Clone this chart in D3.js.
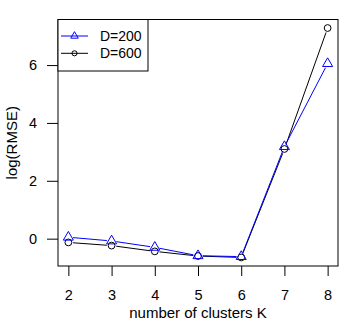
<!doctype html>
<html lang="en">
<head>
    <title></title>
    <script src="https://d3js.org/d3.v7.min.js"></script>
    <style type="text/css">
    body { margin:0; background:white; }
    text { font-family: "Liberation Sans", Arial, sans-serif; fill:black; }
    </style>
</head>
<body>
</body>
<script type="text/javascript">

    // number of clusters
    var clusters = [2, 3, 4, 5, 6, 7, 8];
    // log(RMSE) per series
    var d200 = [0.05, -0.08, -0.3, -0.59, -0.62, 3.18, 6.05];
    var d600 = [-0.13, -0.24, -0.44, -0.6, -0.65, 3.1, 7.28];
    var xTicks = [2, 3, 4, 5, 6, 7, 8];
    var yTicks = [0, 2, 4, 6];
    var seriesNames = ["D=200", "D=600"];
    var seriesColors = ["#0000ff", "#000000"];

    var W = 358, H = 324;
    var box = {left:58, right:338, top:19.5, bottom:266};

    var xScale = d3.scaleLinear().domain([1.76, 8.24]).range([box.left, box.right]);
    var yScale = d3.scaleLinear().domain([-0.945, 7.575]).range([box.bottom, box.top]);

    var svg = d3.select("body").append("svg")
        .attr("width", W).attr("height", H);

    // axes
    var xAxis = svg.append("g")
        .attr("transform", "translate(0," + box.bottom + ")")
        .call(d3.axisBottom(xScale).tickValues(xTicks).tickFormat(d3.format("d"))
            .tickSize(10).tickPadding(14).tickSizeOuter(0));
    xAxis.select(".domain").remove();
    xAxis.selectAll("text").style("font-size", "14.5px").attr("fill", "black");

    var yAxis = svg.append("g")
        .attr("transform", "translate(" + box.left + ",0)")
        .call(d3.axisLeft(yScale).tickValues(yTicks).tickFormat(d3.format("d"))
            .tickSize(11).tickPadding(10).tickSizeOuter(0));
    yAxis.select(".domain").remove();
    yAxis.selectAll("text").style("font-size", "14.5px").attr("fill", "black");
    svg.selectAll(".tick line").attr("stroke", "black");

    svg.append("rect")
        .attr("x", box.left).attr("y", box.top)
        .attr("width", box.right - box.left).attr("height", box.bottom - box.top)
        .attr("fill", "none").attr("stroke", "black");

    svg.append("text")
        .attr("x", (box.left + box.right) / 2).attr("y", 317.5)
        .attr("text-anchor", "middle").style("font-size", "15px")
        .text("number of clusters K");

    svg.append("text")
        .attr("transform", "translate(17," + ((box.top + box.bottom) / 2) + ") rotate(-90)")
        .attr("text-anchor", "middle").style("font-size", "15px")
        .text("log(RMSE)");

    // R type="b": segments with gaps around points
    var gap = 4.7;
    function drawSeries(vals, color, shape) {
        var pts = clusters.map((k, i) => [xScale(k), yScale(vals[i])]);
        var g = svg.append("g");
        for (var i = 0; i < pts.length - 1; i++) {
            var a = pts[i], b = pts[i + 1];
            var dx = b[0] - a[0], dy = b[1] - a[1];
            var len = Math.sqrt(dx * dx + dy * dy);
            if (len <= 2 * gap) continue;
            var ux = dx / len, uy = dy / len;
            g.append("line")
                .attr("x1", a[0] + ux * gap).attr("y1", a[1] + uy * gap)
                .attr("x2", b[0] - ux * gap).attr("y2", b[1] - uy * gap)
                .attr("stroke", color).attr("stroke-width", 1);
        }
        pts.forEach(p => drawMarker(g, p[0], p[1], color, shape, 1));
    }

    function drawMarker(g, x, y, color, shape, s) {
        if (shape == "tri") {
            var r = 5.8 * s;
            var xc = r * Math.sqrt(3) / 2;
            g.append("path")
                .attr("d", "M" + x + "," + (y - r) + "L" + (x + xc) + "," + (y + r / 2) +
                    "L" + (x - xc) + "," + (y + r / 2) + "Z")
                .attr("fill", "none").attr("stroke", color);
        } else {
            g.append("circle").attr("cx", x).attr("cy", y).attr("r", 3.4 * s)
                .attr("fill", "none").attr("stroke", color);
        }
    }

    drawSeries(d600, seriesColors[1], "circ");
    drawSeries(d200, seriesColors[0], "tri");

    // legend
    var lg = svg.append("g");
    lg.append("rect")
        .attr("x", box.left).attr("y", box.top)
        .attr("width", 90).attr("height", 51.5)
        .attr("fill", "white").attr("stroke", "black");
    seriesNames.forEach(function(name, i) {
        var y = 36 + i * 17.3;
        lg.append("line").attr("x1", 61).attr("x2", 88).attr("y1", y).attr("y2", y)
            .attr("stroke", seriesColors[i]);
        drawMarker(lg, 74.5, y, seriesColors[i], i == 0 ? "tri" : "circ", 0.75);
        lg.append("text").attr("x", 100).attr("y", y + 5).style("font-size", "14px").text(name);
    });

</script>
</html>
